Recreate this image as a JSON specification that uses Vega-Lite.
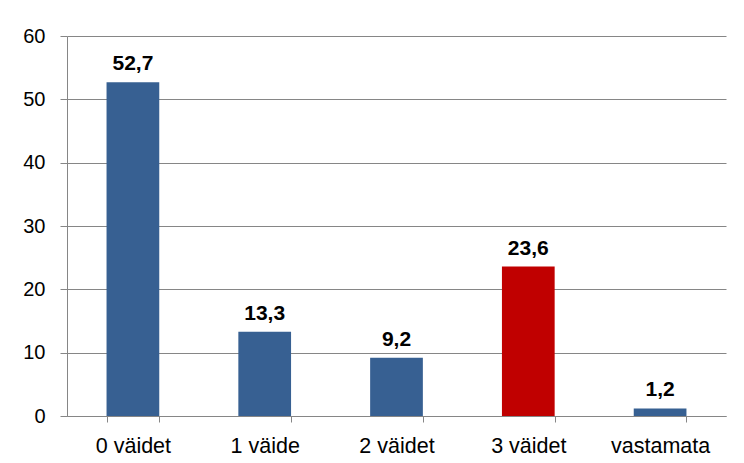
{
  "$schema": "https://vega.github.io/schema/vega-lite/v6.json",
  "autosize": {"type": "none"},
  "width": 659,
  "height": 380,
  "padding": {"left": 67, "top": 36, "right": 18, "bottom": 47},
  "background": "white",
  "config": {
    "view": {"stroke": null},
    "locale": {"number": {"decimal": ",", "thousands": " ", "grouping": [3], "currency": ["", " €"]}},
    "font": "Liberation Sans"
  },
  "data": {
    "values": [
      {"category": "0 väidet", "value": 52.7},
      {"category": "1 väide", "value": 13.3},
      {"category": "2 väidet", "value": 9.2},
      {"category": "3 väidet", "value": 23.6},
      {"category": "vastamata", "value": 1.2}
    ]
  },
  "encoding": {
    "x": {
      "field": "category",
      "type": "nominal",
      "sort": null,
      "scale": {"paddingInner": 0.6, "paddingOuter": 0.3},
      "axis": {
        "title": null,
        "labelAngle": 0,
        "labelFont": "Liberation Sans",
        "labelFontSize": 21.5,
        "labelColor": "#000000",
        "labelPadding": 13,
        "domainColor": "#868686",
        "tickColor": "#868686",
        "tickBand": "extent",
        "tickSize": 6,
        "grid": false
      }
    },
    "y": {
      "field": "value",
      "type": "quantitative",
      "scale": {"domain": [0, 60], "nice": false},
      "axis": {
        "title": null,
        "values": [0, 10, 20, 30, 40, 50, 60],
        "labelFont": "Liberation Sans",
        "labelFontSize": 20,
        "labelColor": "#000000",
        "labelPadding": 15,
        "domainColor": "#868686",
        "tickColor": "#868686",
        "tickSize": 7,
        "gridColor": "#868686",
        "gridWidth": 1
      }
    }
  },
  "layer": [
    {
      "mark": {"type": "bar"},
      "encoding": {
        "color": {
          "condition": {"test": "datum.category === '3 väidet'", "value": "#C00000"},
          "value": "#376092"
        }
      }
    },
    {
      "mark": {"type": "text", "baseline": "alphabetic", "dy": -12, "fontWeight": "bold", "fontSize": 21, "font": "Liberation Sans", "color": "#000000"},
      "encoding": {
        "text": {"field": "value", "type": "quantitative", "format": ".1f"}
      }
    }
  ]
}
